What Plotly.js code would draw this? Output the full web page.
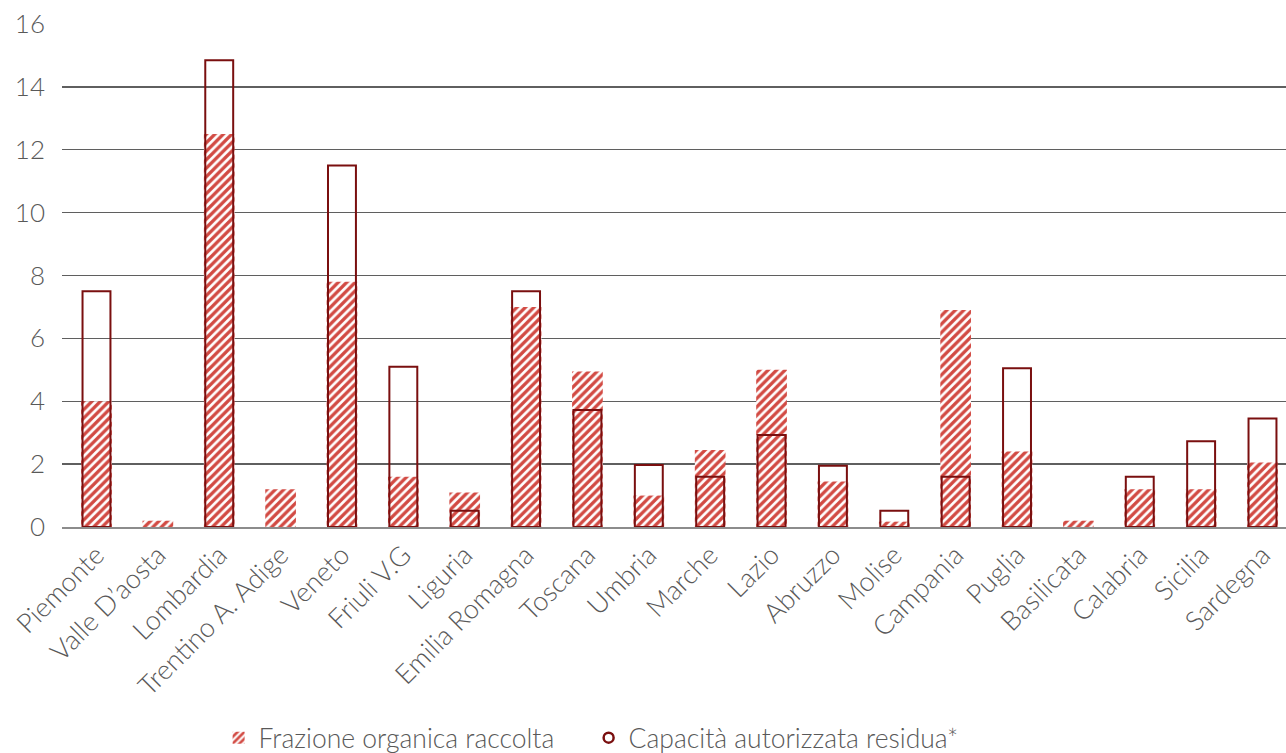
<!DOCTYPE html>
<html>
<head>
<meta charset="utf-8">
<script src="https://cdn.plot.ly/plotly-3.0.1.min.js"></script>
<style>html,body{margin:0;padding:0;background:#fff;}#chart{width:1286px;height:753px;}</style>
</head>
<body>
<div id="chart"></div>
<script>
const regions = ["Piemonte","Valle D\u2019aosta","Lombardia","Trentino A. Adige","Veneto","Friuli V.G","Liguria","Emilia Romagna","Toscana","Umbria","Marche","Lazio","Abruzzo","Molise","Campania","Puglia","Basilicata","Calabria","Sicilia","Sardegna"];
const frazioneOrganica = [4.0, 0.2, 12.5, 1.2, 7.8, 1.6, 1.1, 7.0, 4.95, 1.0, 2.45, 5.0, 1.45, 0.17, 6.9, 2.4, 0.2, 1.2, 1.2, 2.05];
const capacitaResidua = [7.5, null, 14.85, null, 11.5, 5.1, 0.52, 7.5, 3.72, 1.97, 1.6, 2.93, 1.95, 0.52, 1.6, 5.05, null, 1.6, 2.73, 3.45];
const yTicks = [0, 2, 4, 6, 8, 10, 12, 14, 16];

const font = "Lato, 'Open Sans', sans-serif";
const dark = '#7a0f0f';
const traces = [
  {
    type: 'bar', name: 'Frazione organica raccolta', x: regions, y: frazioneOrganica,
    width: 0.5,
    marker: {color: '#d24a43', line: {width: 0},
      pattern: {shape: '/', fgcolor: '#d24a43', bgcolor: '#ffffff', size: 6, solidity: 0.55}},
    hoverinfo: 'skip'
  },
  {
    type: 'bar', name: 'Capacità autorizzata residua*', x: regions, y: capacitaResidua,
    width: 0.455, showlegend: false,
    marker: {color: 'rgba(0,0,0,0)', line: {color: dark, width: 2}},
    hoverinfo: 'skip'
  },
  {
    type: 'scatter', mode: 'markers', name: 'Capacità autorizzata residua*',
    x: [null], y: [null],
    marker: {symbol: 'circle-open', size: 10, color: dark, line: {color: dark, width: 2.5}},
    hoverinfo: 'skip'
  }
];
const layout = {
  width: 1286, height: 753,
  margin: {l: 62, r: 0, t: 24, b: 226},
  paper_bgcolor: '#fff', plot_bgcolor: '#fff',
  barmode: 'overlay',
  showlegend: true,
  font: {family: font, color: '#595959', size: 25, weight: 300},
  xaxis: {
    type: 'category', range: [-0.562, 19.383],
    tickangle: -45, tickfont: {family: font, size: 27, color: '#595959', weight: 300},
    showgrid: false, showline: true, linecolor: '#8c8c8c', linewidth: 1.5,
    ticks: '', zeroline: false, automargin: false
  },
  yaxis: {
    range: [0, 16], tickvals: yTicks, ticktext: yTicks.map(String),
    tickfont: {family: font, size: 26, color: '#595959', weight: 300},
    showgrid: true, gridcolor: '#5f5f5f', gridwidth: 1.3,
    zeroline: false, showline: false, ticks: '', ticklen: 0, automargin: false,
    ticklabelstandoff: 16
  },
  legend: {
    orientation: 'h', xref: 'container', yref: 'container',
    x: 0.170, xanchor: 'left', y: 0.02, yanchor: 'middle',
    font: {family: font, size: 26.5, color: '#595959', weight: 300}, traceorder: 'normal',
    itemwidth: 30, entrywidth: 325, entrywidthmode: 'pixels', bgcolor: 'rgba(0,0,0,0)'
  }
};
Plotly.newPlot('chart', traces, layout, {displayModeBar: false, staticPlot: true});
</script>
</body>
</html>
